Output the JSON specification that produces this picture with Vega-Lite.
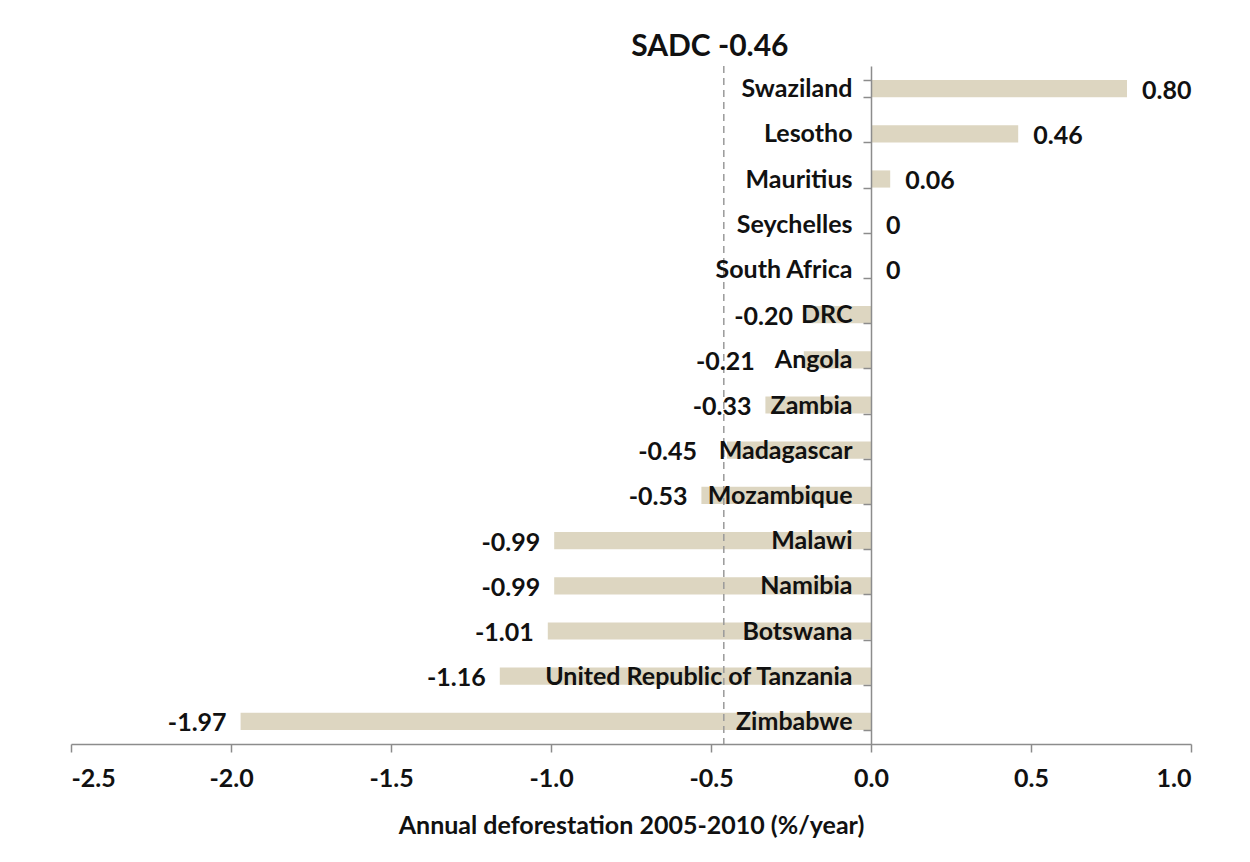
{
  "$schema": "https://vega.github.io/schema/vega-lite/v6.json",
  "width": 1120,
  "height": 678,
  "autosize": {"type": "none"},
  "padding": {"left": 71, "top": 66, "right": 59, "bottom": 118},
  "background": "white",
  "config": {
    "view": {"stroke": null},
    "font": "Lato",
    "text": {"font": "Lato", "fontWeight": "bold", "fontSize": 25, "color": "#111111"}
  },
  "datasets": {
    "countries": [
      {"country": "Swaziland", "value": 0.80, "label": "0.80"},
      {"country": "Lesotho", "value": 0.46, "label": "0.46"},
      {"country": "Mauritius", "value": 0.06, "label": "0.06"},
      {"country": "Seychelles", "value": 0, "label": "0"},
      {"country": "South Africa", "value": 0, "label": "0"},
      {"country": "DRC", "value": -0.20, "label": "-0.20"},
      {"country": "Angola", "value": -0.21, "label": "-0.21"},
      {"country": "Zambia", "value": -0.33, "label": "-0.33"},
      {"country": "Madagascar", "value": -0.45, "label": "-0.45"},
      {"country": "Mozambique", "value": -0.53, "label": "-0.53"},
      {"country": "Malawi", "value": -0.99, "label": "-0.99"},
      {"country": "Namibia", "value": -0.99, "label": "-0.99"},
      {"country": "Botswana", "value": -1.01, "label": "-1.01"},
      {"country": "United Republic of Tanzania", "value": -1.16, "label": "-1.16"},
      {"country": "Zimbabwe", "value": -1.97, "label": "-1.97"}
    ],
    "sadc": [
      {"name": "SADC -0.46", "value": -0.46, "anchor": "Swaziland"}
    ]
  },
  "layer": [
    {
      "data": {"name": "countries"},
      "mark": {"type": "bar", "color": "#ddd6c1"},
      "encoding": {
        "y": {
          "field": "country",
          "type": "nominal",
          "sort": null,
          "scale": {"paddingInner": 0.62, "paddingOuter": 0.31},
          "axis": {
            "title": null,
            "orient": "left",
            "offset": -800,
            "zindex": 1,
            "domainColor": "#8c8c8c",
            "domainWidth": 1.5,
            "tickColor": "#8c8c8c",
            "tickWidth": 1.5,
            "tickSize": 8,
            "tickBand": "extent",
            "labelPadding": 11,
            "labelFont": "Lato",
            "labelFontWeight": "bold",
            "labelFontSize": 25,
            "labelColor": "#111111",
            "labelLimit": 0
          }
        },
        "x": {
          "field": "value",
          "type": "quantitative",
          "scale": {"domain": [-2.5, 1.0], "nice": false, "zero": false},
          "axis": {
            "values": [-2.5, -2.0, -1.5, -1.0, -0.5, 0.0, 0.5, 1.0],
            "format": ".1f",
            "labelExpr": "replace(datum.label, '\u2212', '-')",
            "grid": false,
            "domainColor": "#8c8c8c",
            "domainWidth": 1.5,
            "tickColor": "#8c8c8c",
            "tickWidth": 1.5,
            "tickSize": 8,
            "labelPadding": 14,
            "labelFont": "Lato",
            "labelFontWeight": "bold",
            "labelFontSize": 25,
            "labelColor": "#111111",
            "title": "Annual deforestation 2005-2010 (%/year)",
            "titleFont": "Lato",
            "titleFontWeight": "bold",
            "titleFontSize": 25,
            "titleColor": "#111111",
            "titlePadding": 22
          }
        }
      }
    },
    {
      "data": {"name": "sadc"},
      "mark": {"type": "rule", "color": "#9a9a9a", "strokeWidth": 1.5, "strokeDash": [7, 5]},
      "encoding": {
        "x": {"field": "value", "type": "quantitative"}
      }
    },
    {
      "data": {"name": "sadc"},
      "mark": {"type": "text", "align": "center", "baseline": "middle", "fontSize": 30, "dx": -14, "dy": -42},
      "encoding": {
        "x": {"field": "value", "type": "quantitative"},
        "y": {"field": "anchor", "type": "nominal", "sort": null},
        "text": {"field": "name"}
      }
    },
    {
      "data": {"name": "countries"},
      "transform": [{"filter": "datum.value >= 0"}],
      "mark": {"type": "text", "align": "left", "baseline": "middle", "dx": 15, "dy": 2},
      "encoding": {
        "x": {"field": "value", "type": "quantitative"},
        "y": {"field": "country", "type": "nominal", "sort": null},
        "text": {"field": "label"}
      }
    },
    {
      "data": {"name": "countries"},
      "transform": [{"filter": "datum.value < 0 && datum.country != 'Angola' && datum.country != 'Madagascar'"}],
      "mark": {"type": "text", "align": "right", "baseline": "middle", "dx": -14, "dy": 2},
      "encoding": {
        "x": {"field": "value", "type": "quantitative"},
        "y": {"field": "country", "type": "nominal", "sort": null},
        "text": {"field": "label"}
      }
    },
    {
      "data": {"name": "countries"},
      "transform": [{"filter": "datum.country == 'Angola'"}],
      "mark": {"type": "text", "align": "right", "baseline": "middle", "dx": -49, "dy": 2},
      "encoding": {
        "x": {"field": "value", "type": "quantitative"},
        "y": {"field": "country", "type": "nominal", "sort": null},
        "text": {"field": "label"}
      }
    },
    {
      "data": {"name": "countries"},
      "transform": [{"filter": "datum.country == 'Madagascar'"}],
      "mark": {"type": "text", "align": "right", "baseline": "middle", "dx": -30, "dy": 2},
      "encoding": {
        "x": {"field": "value", "type": "quantitative"},
        "y": {"field": "country", "type": "nominal", "sort": null},
        "text": {"field": "label"}
      }
    }
  ]
}
